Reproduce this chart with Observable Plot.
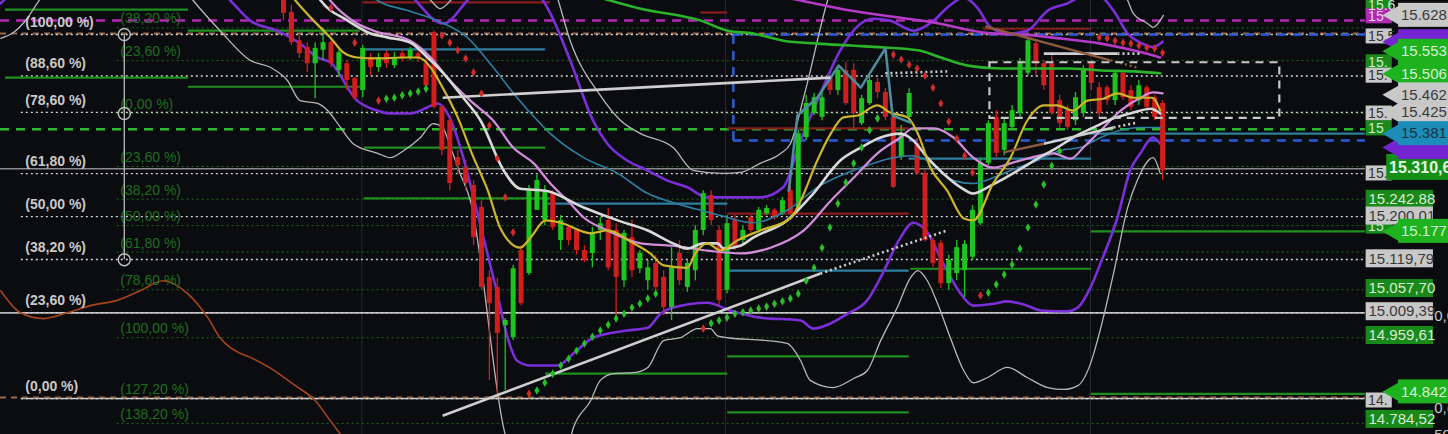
<!DOCTYPE html>
<html><head><meta charset="utf-8">
<script src="https://cdn.jsdelivr.net/npm/d3@7"></script>
<script src="https://cdn.jsdelivr.net/npm/@observablehq/plot@0.6"></script>
<style>
html,body{margin:0;padding:0;background:#0a0c10;overflow:hidden}
#chart{width:1448px;height:434px;overflow:hidden;position:relative}
#chart svg{display:block}
</style></head><body><div id="chart"></div>
<script>
// ---------- candles (bar index 0..111) ----------
const openP  = [15669,15634,15575,15561,15527,15555,15571,15513,15527,15496,15471,15540,15519,15548,15523,15548,15540,15548,15527,15592,15436,15408,15331,15310,15273,15227,15081,15060,14980,14955,15137,15089,15221,15200,15256,15158,15185,15179,15137,15131,15179,15200,15179,15074,15164,15099,15074,15110,15081,15018,15131,15060,15095,15179,15252,15179,15054,15200,15158,15206,15179,15214,15221,15214,15262,15227,15373,15423,15415,15498,15471,15513,15513,15402,15444,15488,15467,15415,15331,15415,15360,15298,15158,15152,15068,15089,15095,15123,15193,15319,15415,15346,15394,15423,15507,15569,15527,15527,15450,15429,15408,15423,15527,15477,15477,15450,15507,15471,15450,15477,15456,15444];
const highP  = [15690,15649,15586,15571,15571,15601,15575,15555,15534,15498,15565,15548,15548,15555,15550,15555,15561,15555,15544,15596,15440,15419,15346,15325,15283,15241,15095,15079,14995,15106,15147,15273,15294,15273,15262,15210,15189,15183,15147,15185,15206,15225,15193,15179,15200,15137,15116,15127,15095,15143,15158,15116,15189,15262,15262,15189,15210,15210,15189,15210,15227,15231,15225,15248,15273,15388,15461,15465,15467,15502,15517,15530,15527,15461,15502,15496,15475,15425,15398,15475,15371,15304,15162,15158,15127,15158,15158,15231,15329,15408,15429,15413,15440,15538,15580,15575,15534,15544,15461,15440,15467,15523,15534,15488,15481,15513,15513,15481,15492,15481,15461,15450];
const lowP   = [15617,15565,15538,15509,15454,15534,15519,15498,15471,15450,15456,15502,15509,15517,15517,15530,15534,15530,15477,15433,15335,15262,15294,15262,15147,15054,14866,14834,14845,14949,15022,15085,15221,15189,15179,15137,15147,15127,15112,15101,15158,15095,14997,15060,15081,15089,15054,15043,15001,14991,15064,15050,15074,15168,15189,15022,15047,15137,15147,15173,15173,15210,15200,15210,15210,15221,15367,15419,15408,15461,15461,15440,15388,15398,15440,15454,15408,15266,15325,15408,15294,15155,15101,15058,15054,15074,15039,15116,15189,15314,15331,15335,15388,15413,15502,15502,15471,15419,15392,15388,15398,15415,15471,15415,15440,15440,15450,15429,15440,15429,15408,15283];
const closeP = [15632,15571,15548,15527,15559,15571,15527,15550,15492,15456,15559,15519,15540,15527,15540,15538,15555,15538,15481,15436,15346,15277,15314,15277,15164,15060,15026,14964,14991,15099,15026,15262,15283,15262,15185,15200,15158,15137,15116,15175,15193,15101,15081,15173,15095,15131,15101,15060,15018,15101,15074,15110,15179,15256,15200,15033,15193,15143,15179,15179,15221,15225,15206,15241,15214,15381,15444,15456,15456,15471,15513,15444,15423,15454,15492,15467,15415,15269,15381,15465,15298,15158,15110,15068,15116,15143,15150,15221,15319,15402,15340,15402,15429,15527,15575,15527,15481,15423,15402,15394,15456,15513,15486,15423,15450,15507,15456,15436,15481,15436,15415,15304];

// ---------- indicator lines [bar index, price] ----------
const yellowMA = [[0,15690],[1.5,15659],[3.8,15617],[5.9,15582],[7.6,15550],[9.3,15540],[11.9,15538],[15.2,15540],[17.0,15540],[18.6,15519],[19.8,15486],[22.0,15415],[23.9,15335],[25.8,15262],[27.4,15183],[29.9,15143],[31.2,15164],[33.1,15200],[35.0,15195],[38.8,15173],[40.9,15179],[44.2,15152],[46.3,15131],[48.0,15106],[51.0,15101],[52.0,15131],[53.5,15152],[55.2,15137],[57.3,15158],[60.2,15179],[64.0,15204],[65.3,15241],[67.4,15325],[69.1,15381],[70.7,15415],[72.5,15419],[75.0,15440],[76.6,15425],[78.8,15415],[80.1,15381],[81.7,15310],[83.8,15262],[85.9,15204],[87.1,15200],[89.6,15277],[91.8,15331],[93.9,15408],[96.0,15440],[97.7,15440],[99.7,15429],[101.5,15450],[103.5,15454],[105.3,15465],[107.3,15456],[109.7,15456],[110.7,15429]];
const whiteMA = [[3.5,15690],[4.7,15659],[8.1,15617],[11.0,15590],[13.1,15582],[16.0,15571],[18.2,15540],[20.2,15507],[22.7,15456],[24.9,15408],[27.8,15304],[29.9,15266],[33.1,15262],[37.9,15227],[42.2,15200],[46.0,15179],[49.2,15152],[51.0,15141],[53.0,15152],[54.8,15152],[55.6,15141],[57.7,15147],[59.3,15164],[63.6,15200],[66.9,15256],[70.3,15325],[72.9,15352],[75.4,15373],[77.9,15381],[79.5,15367],[81.3,15331],[83.3,15298],[85.5,15269],[87.1,15256],[88.9,15269],[90.5,15283],[92.7,15304],[95.2,15329],[97.7,15352],[99.7,15373],[102.3,15394],[104.8,15413],[107.3,15425],[109.5,15433],[110.7,15423]];
const pinkMA = [[4.5,15690],[5.9,15659],[9.3,15611],[11.4,15596],[16.0,15575],[18.6,15540],[20.7,15498],[23.6,15450],[26.5,15408],[29.0,15352],[31.6,15319],[33.7,15277],[35.9,15241],[37.9,15206],[40.9,15179],[45.1,15152],[49.2,15147],[53.5,15137],[57.7,15131],[61.5,15143],[65.7,15179],[69.1,15241],[72.0,15289],[75.0,15340],[77.9,15373],[79.5,15392],[82.1,15392],[84.6,15373],[87.1,15331],[89.6,15310],[91.8,15319],[93.9,15329],[97.2,15340],[99.4,15329],[101.0,15352],[103.2,15388],[105.7,15429],[108.2,15456],[109.8,15467],[111.0,15465]];
const tealMA = [[10.5,15690],[11.9,15659],[15.7,15638],[19.4,15617],[23.2,15582],[26.5,15519],[29.5,15456],[32.1,15408],[33.7,15381],[37.9,15331],[42.2,15298],[46.0,15256],[49.2,15237],[51.8,15225],[55.2,15210],[59.3,15195],[63.6,15221],[67.4,15269],[72.9,15310],[79.2,15335],[81.3,15325],[84.6,15283],[87.1,15277],[89.6,15289],[91.8,15304],[95.2,15325],[98.1,15346],[100.6,15352],[103.2,15373],[105.7,15388],[108.2,15394],[110.7,15394]];
const purpleLow = [[-8.5,15690],[-6.7,15659],[-4.2,15617],[-0.8,15596],[2.1,15569],[4.3,15540],[5.9,15530],[9.3,15450],[11.9,15429],[13.5,15423],[16.0,15423],[18.2,15436],[19.4,15444],[20.2,15436],[21.5,15394],[22.7,15331],[24.0,15248],[27.0,15047],[28.3,14955],[29.5,14907],[31.2,14897],[34.6,14897],[36.6,14922],[39.1,14955],[43.4,14970],[46.0,14976],[47.6,15005],[49.2,15018],[53.5,15028],[56.4,15012],[60.2,14997],[65.3,14991],[66.9,14974],[69.1,14985],[71.2,15005],[73.7,15033],[75.4,15081],[77.9,15164],[79.5,15195],[81.3,15175],[83.3,15110],[85.5,15047],[87.1,15022],[89.6,15026],[91.4,15031],[93.9,15022],[95.6,15012],[99.0,15010],[100.3,15018],[101.9,15060],[103.2,15112],[105.3,15206],[106.9,15304],[108.2,15340],[109.8,15373],[110.7,15360]];
const purpleUp = [[-35.7,15653],[-33.8,15680],[-10.5,15784],[14.8,15701],[16.7,15659],[20.2,15611],[23.2,15659],[27.4,15743],[32.4,15669],[33.7,15632],[36.2,15534],[39.1,15408],[40.9,15360],[43.4,15325],[46.0,15304],[48.5,15283],[51.0,15269],[53.5,15248],[57.7,15248],[60.2,15248],[63.1,15269],[65.3,15367],[67.8,15465],[70.3,15555],[72.9,15611],[74.5,15621],[76.6,15617],[79.5,15596],[82.1,15617],[83.8,15644],[85.9,15665],[87.6,15644],[89.3,15603],[91.4,15590],[93.9,15596],[96.5,15638],[99.0,15653],[100.6,15665],[103.2,15665],[104.8,15638],[106.6,15590],[108.2,15571],[109.8,15562],[111.0,15573]];
const greyUp = [[14.8,15722],[18.6,15659],[19.8,15642],[21.1,15659],[24.9,15784],[31.2,15784],[34.3,15680],[36.2,15575],[40.0,15461],[42.6,15408],[45.1,15381],[49.2,15352],[51.8,15304],[55.6,15298],[57.7,15300],[60.2,15319],[62.8,15340],[64.0,15360],[65.9,15471],[68.7,15659],[71.6,15784],[90.5,15826],[103.2,15743],[106.6,15659],[107.3,15632],[109.1,15611],[109.8,15603],[111.1,15628]];
const greyLow = [[-35.7,15580],[-34.1,15592],[-32.3,15623],[-31.1,15653],[-23.1,15763],[-14.3,15722],[-11.4,15659],[-8.0,15596],[-4.2,15534],[-1.6,15519],[0.5,15492],[2.1,15450],[4.3,15444],[5.6,15429],[7.2,15394],[8.8,15360],[11.9,15340],[13.5,15331],[15.2,15346],[17.3,15373],[18.9,15402],[20.1,15394],[21.1,15352],[22.3,15298],[23.6,15241],[27.8,14767],[29.9,14657],[34.9,14657],[36.6,14767],[38.8,14824],[40.0,14866],[41.7,14880],[44.2,14882],[46.0,14893],[48.0,14949],[50.1,14955],[52.3,14974],[53.9,14974],[54.8,14959],[56.1,14955],[61.1,14949],[63.6,14943],[65.3,14907],[66.5,14866],[69.4,14851],[72.0,14870],[73.7,14886],[75.4,14949],[77.5,15018],[79.2,15081],[80.1,15095],[81.3,15074],[82.6,15026],[84.2,14955],[85.9,14886],[87.1,14861],[88.9,14872],[91.4,14893],[93.9,14872],[96.5,14851],[98.5,14847],[100.3,14855],[101.9,14901],[103.2,14976],[104.8,15089],[106.6,15227],[107.8,15283],[109.8,15331],[110.7,15298]];
const greenMA = [[35.0,15690],[45.1,15642],[52.7,15617],[56.1,15596],[59.3,15590],[63.1,15575],[67.4,15569],[71.6,15565],[75.8,15561],[80.1,15555],[83.0,15540],[86.4,15523],[90.5,15517],[99.0,15517],[103.2,15513],[107.3,15511],[110.7,15507]];
const magentaMA = [[60.2,15676],[65.3,15659],[71.6,15638],[77.9,15623],[82.1,15613],[88.4,15592],[94.7,15586],[96.8,15582],[103.2,15569],[107.3,15555],[110.7,15540]];
const zigzag = [[63.8,15262],[64.9,15419],[67.4,15456],[70.1,15523],[72.9,15477],[76.0,15559],[76.9,15419],[79.2,15404]];
const brownOsc = [[-35.7,15053],[-33.2,15007],[-30.3,14995],[-27.3,15007],[-24.4,15022],[-21.0,15033],[-18.1,15053],[-15.2,15074],[-12.1,15047],[-9.6,14998],[-8.0,14955],[-5.4,14922],[-4.2,14914],[-1.6,14891],[1.5,14855],[4.0,14824],[5.9,14782],[7.8,14740]];

// ---------- parabolic SAR dots [bar, price] ----------
const sarRed = [[6,15644],[9,15571],[12,15450],[20,15586],[21,15571],[22,15555],[23,15538],[24,15509],[25,15465],[26,15398],[27,15329],[28,15248],[29,15175],[31,14838],[53,14974],[77,15546],[78,15536],[79,15525],[80,15517],[81,15502],[82,15477],[83,15444],[84,15406],[85,15371],[86,15335],[87,15300],[88,15043],[103,15582],[104,15580],[105,15575],[106,15571],[107,15569],[108,15565],[109,15561],[110,15559],[111,15550]];
const sarGreen = [[13,15454],[14,15456],[15,15461],[16,15465],[17,15469],[18,15475],[32,14845],[33,14861],[34,14880],[35,14897],[36,14911],[37,14928],[38,14943],[39,14957],[40,14970],[41,14982],[42,14995],[43,15005],[44,15018],[45,15026],[46,15037],[47,15047],[54,14985],[55,14991],[56,14997],[57,15005],[58,15008],[59,15012],[60,15016],[61,15020],[62,15026],[63,15031],[64,15037],[65,15047],[66,15074],[67,15101],[68,15143],[69,15185],[70,15235],[71,15279],[72,15319],[73,15352],[74,15388],[75,15413],[89,15049],[90,15066],[91,15087],[92,15108],[93,15141],[94,15185],[95,15233],[96,15275],[97,15314],[98,15344]];

// ---------- horizontal segments [price, fromBar, toBar] ----------
const greenSegs = [[15640,-35.1,-12.0],[15498,-35.1,-12.0],[15596,-12.0,9.7],[15479,-12.0,9.7],[15352,10.2,33.1],[15246,10.2,33.7],[14880,33.1,56.1],[14916,56.1,79.0],[14799,56.1,79.0],[15099,79.2,102.0],[15177,102.0,136.6],[14838,102.0,136.6]];
const tealSegs = [[15557,10.2,33.1],[15235,33.4,56.1],[15095,56.1,79.0],[15329,79.0,102.0],[15381,102.0,136.6]];
const redSegs = [[15655,10.1,33.7],[15634,52.7,56.1],[15392,56.1,79.0],[15214,56.1,79.0],[15600,88.4,102.0]];
const sessionBreaks = [9.9, 55.8, 101.9];

// ---------- trend lines [bar1, price1, bar2, price2] ----------
const whiteTrend = [[20.1,14792,67.8,15089],[20.1,15456,69.1,15498],[96.0,15548,105.3,15548],[96.0,15360,104.8,15394]];
const whiteTrendDotted = [[67.8,15089,83.8,15179],[76.0,15507,83.8,15511],[105.3,15548,108.2,15548],[104.8,15394,107.8,15404]];
const brownTrend = [[88.6,15605,104.4,15534],[90.9,15342,96.0,15360]];
const brownTrendDotted = [[104.4,15534,107.8,15519]];

// ---------- Fibonacci retracements ----------
const fib1Low = 14828, fib1High = 15588;
const fib1Levels = [1, 0.886, 0.786, 0.618, 0.5, 0.382, 0.236, 0];
const fib1Labels = ["(100,00 %)","(88,60 %)","(78,60 %)","(61,80 %)","(50,00 %)","(38,20 %)","(23,60 %)","(0,00 %)"];
const fib2Zero = 15423, fib2Full = 14955;
const fib2Levels = [-0.382,-0.236,0,0.236,0.382,0.5,0.618,0.786,1,1.272,1.382];
const fib2Labels = ["(38,20 %)","(23,60 %)","(0,00 %)","(23,60 %)","(38,20 %)","(50,00 %)","(61,80 %)","(78,60 %)","(100,00 %)","(127,20 %)","(138,20 %)"];
const fibTool = [15588, 15423, 15118];

// ---------- right-hand price tags ----------
const stubLabels = ["15.6","15","15.5","15.","15.","15.","15","15.","15","14."];
const stubPrices = [15649,15626,15584,15530,15502,15423,15392,15298,15187,14824];
const stubKinds  = ["green","magenta","grey","green","grey","grey","green","grey","green","grey"];
const tagLabels = ["","","15.628,","15.506,","15.553,","15.462,","15.425,","15.381,","15.310,6","15.242.88","15.200.01","15.177,","15.119,79","15.057,70","15.009,39","14.959,61","14.842,","14.784,52"];
const tagPrices = [15573,15352,15628,15506,15553,15462,15425,15381,15310.6,15244,15209,15177,15119.79,15057.70,15009.39,14959.61,14842,14784.52];
const tagKinds  = ["purple-arrow","purple-arrow","grey-arrow","green-arrow","green-arrow","grey-arrow","grey-arrow","teal-arrow","green-big","green-box","grey-box","green-arrow","grey-box","green-box","grey-box","green-box","green-arrow","green-box"];
const extraLabels = ["0,0","0,(","50,00"];
const extraPrices = [15000, 14808, 14752];

// ================= build =================
const W = 1448, H = 434;
const X0 = -35.73, X1 = 147.1, P0 = 14753, P1 = 15659;
const pxP = (P1 - P0) / H;           // price units per pixel
const GREEN = "#1ec41e", RED = "#d11d1d";

const candles = openP.map((o, i) => ({i, o, h: highP[i], l: lowP[i], c: closeP[i]}));
const upC = candles.filter(d => d.c >= d.o), dnC = candles.filter(d => d.c < d.o);

const seg = a => a.map(([p, a1, a2]) => ({p, a1, a2}));
const lnk = a => a.map(([a1, p1, a2, p2]) => ({a1, p1, a2, p2}));
const fib1 = fib1Levels.map((l, k) => ({p: fib1Low + l * (fib1High - fib1Low), t: fib1Labels[k]}));
const fib2 = fib2Levels.map((l, k) => ({p: fib2Zero - l * (fib2Zero - fib2Full), t: fib2Labels[k]}));

const stubColor = {green: "#1a8a1a", magenta: "#b02ab0", grey: "#c8c8c8"};
const stubText  = {green: "#d0e8d0", magenta: "#f0d0f0", grey: "#333"};
const stubs = stubLabels.map((t, k) => ({t, p: stubPrices[k], k: stubKinds[k]}));

const kindFill = {"purple-arrow": "#7424d0", "grey-arrow": "#c8c8c8", "green-arrow": "#1fb21f", "teal-arrow": "#1b8db8", "green-big": "#138f13", "green-box": "#198a19", "grey-box": "#c8c8c8"};
const kindText = {"purple-arrow": "#fff", "grey-arrow": "#3a3a3a", "green-arrow": "#d4f2d4", "teal-arrow": "#17313f", "green-big": "#e6f8e6", "green-box": "#d8ecd8", "grey-box": "#3a3a3a"};
const tags = tagLabels.map((t, k) => ({t, p: tagPrices[k], k: tagKinds[k]}));
const arrows = tags.filter(d => d.k.endsWith("arrow"));
const boxes = tags.filter(d => d.k.endsWith("box"));
const bigs = tags.filter(d => d.k === "green-big");

// tag columns in bar-index units (right margin area)
const T = {stubL: 136.7, stubR: 140.0, boxL: 136.7, boxR: 145.2, bigL: 139.3, arrowL: 140.8, arrowC: 140.5, right: 147.6, tStub: 136.95, tBox: 137.0, tArrow: 141.1, tBig: 139.6, tExtra: 145.3};

const line = (data, stroke, sw, extra = {}) => Plot.line(data, {x: d => d[0], y: d => d[1], stroke, strokeWidth: sw, curve: "monotone-x", ...extra});
const rules = (data, stroke, sw, dash) => Plot.ruleY(seg(data), {y: "p", x1: "a1", x2: "a2", stroke, strokeWidth: sw, strokeDasharray: dash});
const full = (prices, stroke, sw, dash, from = X0) => Plot.ruleY(prices, {x1: from, x2: 136.6, stroke, strokeWidth: sw, strokeDasharray: dash});

const chart = Plot.plot({
  width: W, height: H, margin: 0,
  x: {domain: [X0, X1], axis: null},
  y: {domain: [P0, P1], axis: null},
  style: {background: "#0a0c10", fontFamily: "Liberation Sans, Arial, sans-serif", overflow: "hidden"},
  marks: [
    Plot.ruleX(sessionBreaks, {stroke: "#262a31", strokeWidth: 1}),
    Plot.ruleY(fib2, {y: "p", x1: -21, x2: 136.6, stroke: "#1d6b1d", strokeWidth: 1, strokeDasharray: "2,3"}),
    full([15308], "#8a8a8a", 1.5, null),
    full([15007], "#b9b9b9", 1.6, null),
    full([14828], "#d0d0d0", 1.6, null, -33.1),
    full([14830, 15590], "#9a6a48", 2, "6,5"),
    Plot.ruleY(fib1, {y: "p", x1: -33.1, x2: 136.6, stroke: "#d6d6d6", strokeWidth: 1.3, strokeDasharray: "2,3"}),
    full([15617], "#b22ab2", 2.5, "9,7"),
    full([15390], "#2cba2c", 2.5, "9,7"),
    Plot.ruleY([15588, 15367], {x1: 56.8, x2: 136.6, stroke: "#2a5cd8", strokeWidth: 2.5, strokeDasharray: "9,7"}),
    Plot.ruleX([56.8], {y1: 15367, y2: 15588, stroke: "#2a5cd8", strokeWidth: 2.5, strokeDasharray: "9,7"}),
    rules(greenSegs, "#1f8f1f", 2.2),
    rules(tealSegs, "#2c7f9c", 2.2),
    rules(redSegs, "#8a1d1d", 2.2),
    line(brownOsc, "#a8441c", 1.6),
    line(greyUp, "#b8b8b8", 1.3),
    line(greyLow, "#b8b8b8", 1.3),
    line(purpleUp, "#7a2fd8", 2.6),
    line(purpleLow, "#7a2fd8", 2.6),
    Plot.ruleX(upC, {x: "i", y1: "l", y2: "h", stroke: GREEN, strokeWidth: 1.3}),
    Plot.ruleX(dnC, {x: "i", y1: "l", y2: "h", stroke: RED, strokeWidth: 1.3}),
    Plot.ruleX(upC, {x: "i", y1: "o", y2: "c", stroke: GREEN, strokeWidth: 5}),
    Plot.ruleX(dnC, {x: "i", y1: "o", y2: "c", stroke: RED, strokeWidth: 5}),
    line(tealMA, "#2f7fa2", 1.6),
    line(pinkMA, "#d48cdc", 2.2),
    line(whiteMA, "#d9d9d9", 2.6),
    line(yellowMA, "#cbb52a", 2.2),
    line(greenMA, "#2ab42a", 2.6),
    line(magentaMA, "#b53ac8", 2.6),
    Plot.line(zigzag, {x: d => d[0], y: d => d[1], stroke: "#4f8c9c", strokeWidth: 2.6}),
    Plot.link(lnk(whiteTrend), {x1: "a1", y1: "p1", x2: "a2", y2: "p2", stroke: "#cfcfcf", strokeWidth: 2.6}),
    Plot.link(lnk(whiteTrendDotted), {x1: "a1", y1: "p1", x2: "a2", y2: "p2", stroke: "#cfcfcf", strokeWidth: 2.6, strokeDasharray: "2,3"}),
    Plot.link(lnk(brownTrend), {x1: "a1", y1: "p1", x2: "a2", y2: "p2", stroke: "#8c5a3c", strokeWidth: 2.4}),
    Plot.link(lnk(brownTrendDotted), {x1: "a1", y1: "p1", x2: "a2", y2: "p2", stroke: "#8c5a3c", strokeWidth: 2.4, strokeDasharray: "2,3"}),
    Plot.dot(sarRed, {x: d => d[0], y: d => d[1], fill: "#d02a2a", r: 2.6, symbol: "diamond"}),
    Plot.dot(sarGreen, {x: d => d[0], y: d => d[1], fill: "#28c028", r: 2.6, symbol: "diamond"}),
    Plot.rect([{a: 89.2, b: 125.8, p1: 15413, p2: 15529}], {x1: "a", x2: "b", y1: "p1", y2: "p2", fill: "none", stroke: "#c8c8c8", strokeWidth: 2.2, strokeDasharray: "8,6"}),
    Plot.text(fib1, {x: -32.6, y: "p", text: "t", fill: "#c9c9c9", fontSize: 14, fontWeight: "bold", textAnchor: "start", dy: -12}),
    Plot.text(fib2, {x: -20.6, y: "p", text: "t", fill: "#1e6e1e", fontSize: 14, textAnchor: "start", dy: -9}),
    Plot.ruleX([-20.1], {y1: fibTool[2], y2: fibTool[0], stroke: "#bdbdbd", strokeWidth: 1.3}),
    Plot.dot(fibTool, {x: -20.1, y: d => d, r: 6, stroke: "#bdbdbd", strokeWidth: 1.5, fill: "none"}),
    Plot.rect(stubs, {x1: T.stubL, x2: T.stubR, y1: d => d.p - 7.5 * pxP, y2: d => d.p + 7.5 * pxP, fill: d => stubColor[d.k]}),
    Plot.text(stubs, {x: T.tStub, y: "p", text: "t", fill: d => stubText[d.k], fontSize: 14, textAnchor: "start"}),
    Plot.rect(boxes, {x1: T.boxL, x2: T.boxR, y1: d => d.p - 9 * pxP, y2: d => d.p + 9 * pxP, fill: d => kindFill[d.k]}),
    Plot.text(boxes, {x: T.tBox, y: "p", text: "t", fill: d => kindText[d.k], fontSize: 15, textAnchor: "start"}),
    Plot.rect(bigs, {x1: T.bigL, x2: T.right, y1: d => d.p - 13 * pxP, y2: d => d.p + 13 * pxP, fill: d => kindFill[d.k]}),
    Plot.text(bigs, {x: T.tBig, y: "p", text: "t", fill: d => kindText[d.k], fontSize: 16, fontWeight: "bold", textAnchor: "start"}),
    ...arrows.map(d => [
      Plot.rect([d], {x1: T.arrowL, x2: T.right, y1: e => e.p - 12 * pxP, y2: e => e.p + 12 * pxP, fill: kindFill[d.k]}),
      Plot.dot([d], {x: T.arrowC, y: "p", r: 8.9, symbol: "triangle", rotate: -90, fill: kindFill[d.k]}),
      Plot.text([d], {x: T.tArrow, y: "p", text: "t", fill: kindText[d.k], fontSize: 15, textAnchor: "start"})
    ]).flat(),
    Plot.text(extraLabels, {x: T.tExtra, y: (d, k) => extraPrices[k], text: d => d, fill: "#c8c8c8", fontSize: 15, textAnchor: "start"})
  ]
});
document.getElementById("chart").append(chart);
</script></body></html>
